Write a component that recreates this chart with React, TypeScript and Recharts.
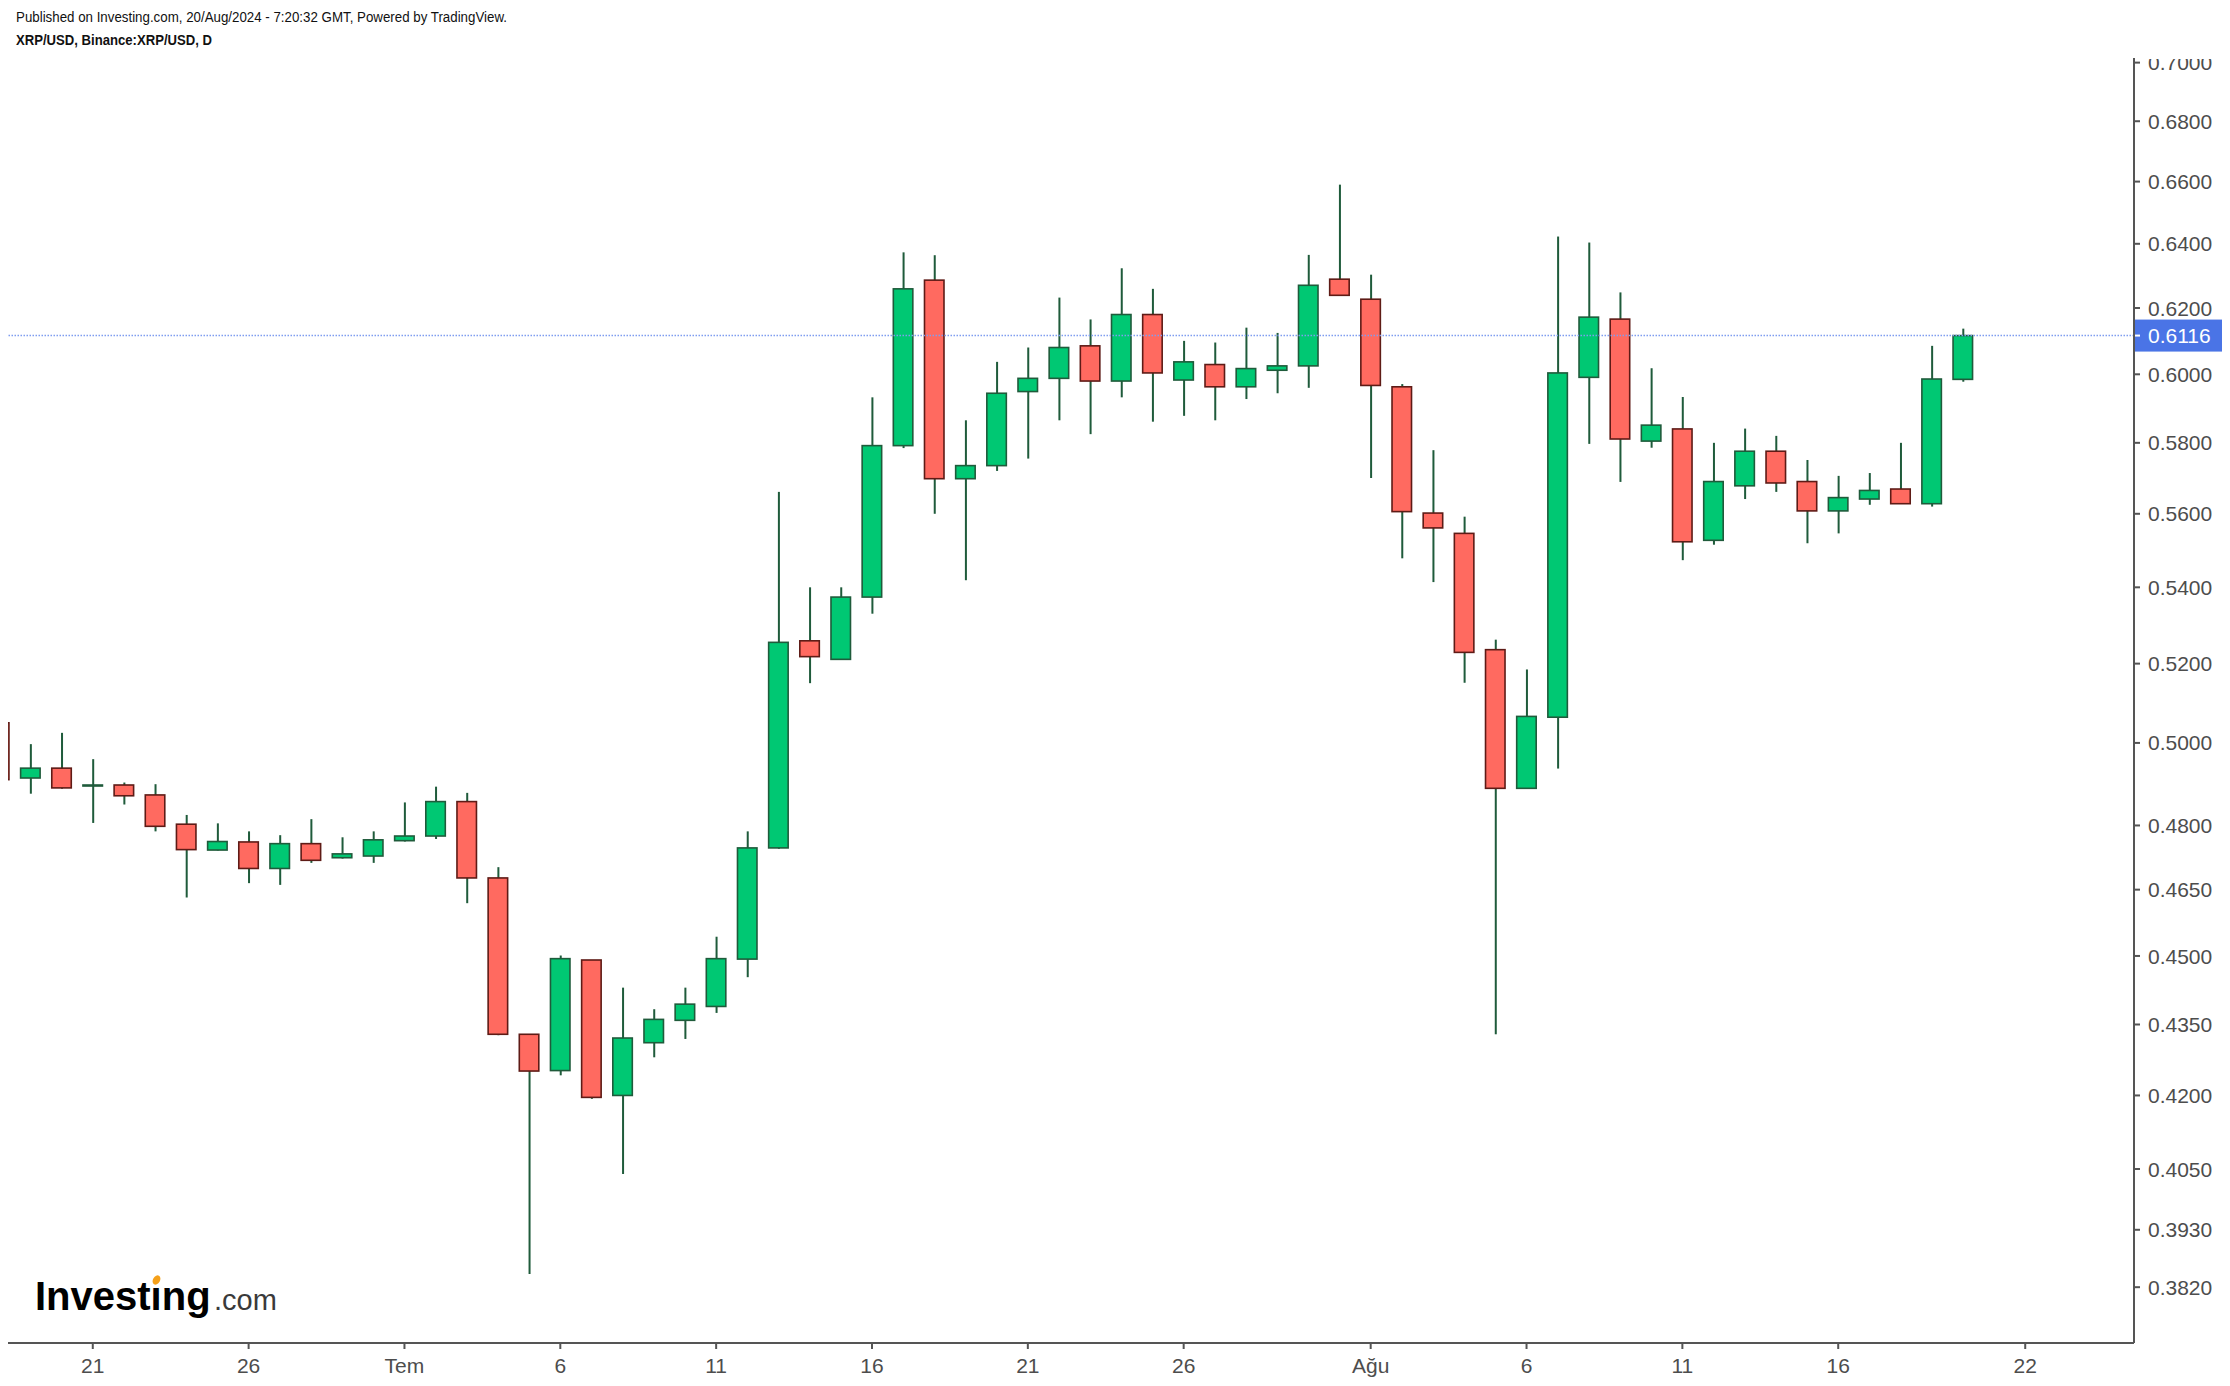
import React from 'react';
import { ComposedChart, Bar, XAxis, YAxis, ReferenceLine } from 'recharts';

// Day numbers: June d = d, July d = 30 + d, August d = 61 + d
const days = [
  18, 19, 20, 21, 22, 23, 24, 25, 26, 27, 28, 29, 30,
  31, 32, 33, 34, 35, 36, 37, 38, 39, 40, 41, 42, 43, 44, 45, 46, 47, 48, 49, 50,
  51, 52, 53, 54, 55, 56, 57, 58, 59, 60, 61,
  62, 63, 64, 65, 66, 67, 68, 69, 70, 71, 72, 73, 74, 75, 76, 77, 78, 79, 80, 81,
];
const opens = [
  0.5050, 0.4914, 0.4938, 0.4895, 0.4897, 0.4873, 0.4803, 0.4742, 0.4761, 0.4699, 0.4757, 0.4724, 0.4728,
  0.4764, 0.4775, 0.4857, 0.4677, 0.4329, 0.4252, 0.4491, 0.4200, 0.4311, 0.4359, 0.4389, 0.4493, 0.4747, 0.5259, 0.5211, 0.5374, 0.5792, 0.6286, 0.5698, 0.5735,
  0.5949, 0.5988, 0.6085, 0.5980, 0.6180, 0.5983, 0.6029, 0.5963, 0.6012, 0.6025, 0.6289,
  0.6227, 0.5963, 0.5602, 0.5546, 0.5236, 0.4889, 0.5064, 0.5991, 0.6166, 0.5805, 0.5840, 0.5527, 0.5678, 0.5776, 0.5690, 0.5608, 0.5641, 0.5669, 0.5628, 0.5985,
];
const highs = [
  0.5100, 0.4997, 0.5025, 0.4960, 0.4903, 0.4899, 0.4825, 0.4805, 0.4786, 0.4777, 0.4815, 0.4772, 0.4786,
  0.4855, 0.4893, 0.4878, 0.4702, 0.4329, 0.4501, 0.4491, 0.4430, 0.4383, 0.4430, 0.4543, 0.4786, 0.5661, 0.5400, 0.5400, 0.5932, 0.6373, 0.6364, 0.5865, 0.6037,
  0.6080, 0.6232, 0.6165, 0.6323, 0.6259, 0.6100, 0.6095, 0.6140, 0.6124, 0.6365, 0.6590,
  0.6303, 0.5971, 0.5779, 0.5592, 0.5262, 0.5185, 0.6423, 0.6404, 0.6248, 0.6018, 0.5933, 0.5800, 0.5841, 0.5820, 0.5751, 0.5706, 0.5714, 0.5800, 0.6085, 0.6137,
];
const lows = [
  0.4880, 0.4876, 0.4888, 0.4806, 0.4850, 0.4786, 0.4632, 0.4741, 0.4665, 0.4661, 0.4712, 0.4722, 0.4712,
  0.4762, 0.4768, 0.4619, 0.4327, 0.3845, 0.4242, 0.4193, 0.4040, 0.4280, 0.4319, 0.4375, 0.4453, 0.4745, 0.5150, 0.5211, 0.5330, 0.5785, 0.5600, 0.5419, 0.5720,
  0.5755, 0.5865, 0.5825, 0.5932, 0.5861, 0.5878, 0.5865, 0.5927, 0.5944, 0.5960, 0.6239,
  0.5700, 0.5478, 0.5414, 0.5151, 0.4329, 0.4889, 0.4937, 0.5797, 0.5689, 0.5786, 0.5473, 0.5515, 0.5641, 0.5661, 0.5519, 0.5546, 0.5625, 0.5628, 0.5620, 0.5978,
];
const closes = [
  0.4910, 0.4938, 0.4890, 0.4897, 0.4871, 0.4798, 0.4743, 0.4762, 0.4699, 0.4757, 0.4718, 0.4733, 0.4766,
  0.4775, 0.4857, 0.4677, 0.4329, 0.4251, 0.4494, 0.4196, 0.4321, 0.4361, 0.4394, 0.4494, 0.4747, 0.5255, 0.5218, 0.5374, 0.5792, 0.6259, 0.5698, 0.5735, 0.5944,
  0.5988, 0.6080, 0.5980, 0.6180, 0.6004, 0.6037, 0.5963, 0.6017, 0.6025, 0.6270, 0.6239,
  0.5967, 0.5606, 0.5561, 0.5229, 0.4889, 0.5066, 0.6004, 0.6172, 0.5811, 0.5851, 0.5523, 0.5690, 0.5776, 0.5686, 0.5608, 0.5645, 0.5665, 0.5628, 0.5986, 0.6116,
];

const xTickValues = [21, 26, 31, 36, 41, 46, 51, 56, 62, 67, 72, 77, 83];
const xTickLabels = ['21', '26', 'Tem', '6', '11', '16', '21', '26', 'Ağu', '6', '11', '16', '22'];
const yTickValues = [0.382, 0.393, 0.405, 0.42, 0.435, 0.45, 0.465, 0.48, 0.5, 0.52, 0.54, 0.56, 0.58, 0.6, 0.62, 0.64, 0.66, 0.68, 0.7];
const lastPrice = 0.6116;
const xDomain = [18.28, 86.49];
const yDomain = [0.3716, 0.7016];

const headerLine1 = 'Published on Investing.com, 20/Aug/2024 - 7:20:32 GMT, Powered by TradingView.';
const headerLine2 = 'XRP/USD, Binance:XRP/USD, D';

const GREEN = '#00C873';
const GREEN_BORDER = '#1F5B3B';
const RED = '#FF6A60';
const RED_BORDER = '#5E1B16';
const WICK = '#1F5B3B';
const AXIS = '#555555';
const LABEL = '#4D4D4D';
const FONT = '"Liberation Sans", Arial, Helvetica, sans-serif';

const data = days.map((d, i) => ({
  d,
  wick: [lows[i], highs[i]],
  body: [Math.min(opens[i], closes[i]), Math.max(opens[i], closes[i])],
  up: closes[i] >= opens[i],
}));

const BodyShape = (props: any) => {
  const { x, y, width, height, payload } = props;
  if (x == null || y == null) return null;
  const up = payload.up;
  const h = Math.max(Math.abs(height), 1);
  return (
    <rect
      x={x + 0.75}
      y={y}
      width={width - 1.5}
      height={h}
      fill={up ? GREEN : RED}
      stroke={up ? GREEN_BORDER : RED_BORDER}
      strokeWidth={1.6}
    />
  );
};

const WickShape = (props: any) => {
  const { x, y, width, height } = props;
  if (x == null || y == null) return null;
  return <rect x={x} y={y} width={width} height={Math.abs(height)} fill={WICK} />;
};

const YTick = (props: any) => {
  const { x, y, payload } = props;
  return (
    <g>
      <line x1={x - 14} x2={x - 8} y1={y} y2={y} stroke={AXIS} strokeWidth={2} />
      <text x={x} y={y} dy="0.36em" textAnchor="start" fill={LABEL} fontSize={21} fontFamily={FONT}>
        {Number(payload.value).toFixed(4)}
      </text>
    </g>
  );
};

const PriceTag = (props: any) => {
  const vb = props.viewBox || {};
  const ax = vb.x + vb.width;
  const cy = vb.y;
  return (
    <g>
      <rect x={ax} y={cy - 16} width={88} height={32} fill="#4A74E6" />
      <line x1={ax} x2={ax + 6} y1={cy} y2={cy} stroke="#ffffff" strokeWidth={2} />
      <text x={ax + 14} y={cy} dy="0.36em" fill="#ffffff" fontSize={21} fontFamily={FONT}>
        {lastPrice.toFixed(4)}
      </text>
    </g>
  );
};

export default function App() {
  return (
    <div style={{ position: 'absolute', left: 0, top: 0, width: 2230, height: 1386, background: '#ffffff', overflow: 'hidden' }}>
      <div style={{ position: 'absolute', left: 0, top: 0 }}>
        <ComposedChart
          width={2230}
          height={1386}
          data={data}
          margin={{ top: 58, right: 0, bottom: 0, left: 8 }}
        >
          <XAxis
            xAxisId="main"
            dataKey="d"
            type="number"
            domain={xDomain}
            allowDataOverflow
            ticks={xTickValues}
            interval={0}
            tickFormatter={(v: number) => xTickLabels[xTickValues.indexOf(v)]}
            height={43}
            tickSize={6}
            tickMargin={9}
            axisLine={{ stroke: AXIS, strokeWidth: 2 }}
            tickLine={{ stroke: AXIS, strokeWidth: 2 }}
            tick={{ fill: LABEL, fontSize: 21, fontFamily: FONT }}
          />
          <XAxis xAxisId="wick" dataKey="d" type="number" domain={xDomain} allowDataOverflow hide />
          <YAxis
            orientation="right"
            scale="log"
            domain={yDomain}
            allowDataOverflow
            ticks={yTickValues}
            interval={0}
            width={96}
            tickSize={6}
            tickMargin={8}
            tickLine={false}
            axisLine={{ stroke: AXIS, strokeWidth: 2 }}
            tick={<YTick />}
          />
          <ReferenceLine
            xAxisId="main"
            y={lastPrice}
            stroke="#7F9DF0"
            strokeWidth={1.5}
            strokeDasharray="1.5 1.5"
            label={<PriceTag />}
          />
          <Bar xAxisId="wick" dataKey="wick" barSize={2} shape={<WickShape />} isAnimationActive={false} />
          <Bar xAxisId="main" dataKey="body" barSize={21} shape={<BodyShape />} isAnimationActive={false} />
        </ComposedChart>
      </div>
      <svg width={2230} height={1386} style={{ position: 'absolute', left: 0, top: 0, pointerEvents: 'none' }}>
        <rect x={2136} y={0} width={94} height={59} fill="#ffffff" />
        <text x={16} y={22} fontSize={14} fill="#111111" fontFamily={'"Liberation Sans Narrow", "Liberation Sans", Arial, sans-serif'} textLength={491} lengthAdjust="spacingAndGlyphs">
          {headerLine1}
        </text>
        <text x={16} y={45} fontSize={14} fontWeight="bold" fill="#111111" fontFamily={'"Liberation Sans Narrow", "Liberation Sans", Arial, sans-serif'} textLength={196} lengthAdjust="spacingAndGlyphs">
          {headerLine2}
        </text>
        <g>
          <text x={35} y={1310} fontSize={40} fontWeight="bold" fill="#000000" fontFamily={FONT}>
            Investing
          </text>
          <rect x={151} y={1270} width={10} height={18} fill="#ffffff" />
          <ellipse cx={156.5} cy={1280} rx={3.5} ry={5} transform="rotate(30 156.5 1280)" fill="#F5A019" />
          <text x={214} y={1310} fontSize={29} fill="#3A3A3A" fontFamily={FONT}>
            .com
          </text>
        </g>
      </svg>
    </div>
  );
}
